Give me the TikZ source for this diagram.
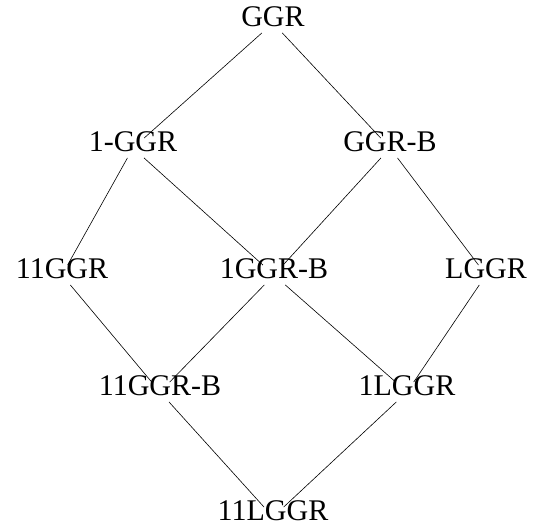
\documentclass[tikz,border=0pt]{standalone}
\usepackage{fontspec}
\setmainfont{Liberation Serif}
\begin{document}
\begin{tikzpicture}[x=1pt,y=-1pt,
  lat/.style={inner sep=5pt, text height=0.85em, text depth=0.1em, font=\fontsize{30}{35}\selectfont},
  edge/.style={draw=black, line width=0.6pt}]
\useasboundingbox (0,0) rectangle (547,529);
\node[lat] (ggr) at (273,23) {GGR};
\node[lat] (1ggr) at (133,148) {1-GGR};
\node[lat] (ggrb) at (390,148) {GGR-B};
\node[lat] (11ggr) at (62,275) {11GGR};
\node[lat] (1ggrb) at (274,275) {1GGR-B};
\node[lat] (lggr) at (486,275) {LGGR};
\node[lat] (11ggrb) at (160,392) {11GGR-B};
\node[lat] (1lggr) at (407,392) {1LGGR};
\node[lat] (11lggr) at (273,517) {11LGGR};
\draw[edge] (ggr) -- (1ggr);
\draw[edge] (ggr) -- (ggrb);
\draw[edge] (1ggr) -- (11ggr);
\draw[edge] (1ggr) -- (1ggrb);
\draw[edge] (ggrb) -- (1ggrb);
\draw[edge] (ggrb) -- (lggr);
\draw[edge] (11ggr) -- (11ggrb);
\draw[edge] (1ggrb) -- (11ggrb);
\draw[edge] (1ggrb) -- (1lggr);
\draw[edge] (lggr) -- (1lggr);
\draw[edge] (11ggrb) -- (11lggr);
\draw[edge] (1lggr) -- (11lggr);
\end{tikzpicture}
\end{document}
